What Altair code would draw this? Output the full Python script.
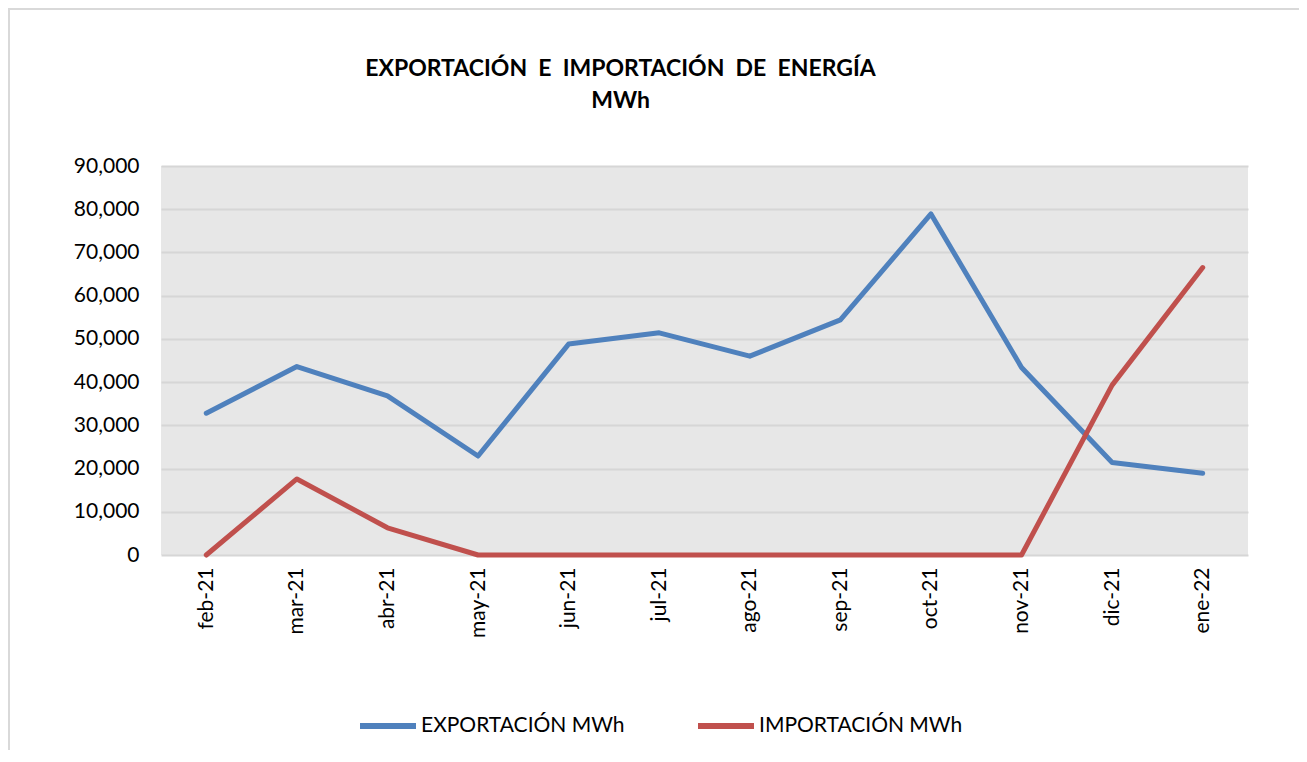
import altair as alt
import pandas as pd

months = ["feb-21", "mar-21", "abr-21", "may-21", "jun-21", "jul-21",
          "ago-21", "sep-21", "oct-21", "nov-21", "dic-21", "ene-22"]
exportacion = [32800, 43600, 36800, 22900, 48800, 51400,
               46000, 54400, 78900, 43400, 21400, 18900]
importacion = [0, 17600, 6300, 0, 0, 0, 0, 0, 0, 0, 39300, 66500]
series_names = ["EXPORTACIÓN MWh", "IMPORTACIÓN MWh"]
series_colors = ["#4F81BD", "#C0504D"]
title_lines = ["EXPORTACIÓN\u00a0\u00a0E\u00a0\u00a0IMPORTACIÓN\u00a0\u00a0DE\u00a0\u00a0ENERGÍA", "MWh"]

rows = []
for i, m in enumerate(months):
    rows.append({"mes": m, "orden": i, "serie": series_names[0], "valor": exportacion[i]})
    rows.append({"mes": m, "orden": i, "serie": series_names[1], "valor": importacion[i]})
df = pd.DataFrame(rows)

FONT = "Lato"
W, H = 1087, 389

frame = alt.Chart(pd.DataFrame({"k": [0]})).mark_rect(
    fill="transparent", stroke="#d9d9d9", strokeWidth=2, clip=False
).encode(
    x=alt.value(-152), x2=alt.value(W + 90),
    y=alt.value(-157), y2=alt.value(H + 260),
)

lines = alt.Chart(df).mark_line(strokeWidth=5, strokeCap="round", strokeJoin="round").encode(
    x=alt.X("mes:N", sort=months, scale=alt.Scale(type="point", padding=0.5),
            axis=alt.Axis(title=None, labelAngle=-90, labelAlign="right", labelBaseline="middle",
                          ticks=False, domain=False, grid=False, labelPadding=12,
                          labelFontSize=21, labelFont=FONT, labelColor="#000000")),
    y=alt.Y("valor:Q", scale=alt.Scale(domain=[0, 90000]),
            axis=alt.Axis(title=None, values=list(range(0, 90001, 10000)), format=",.0f",
                          ticks=False, domain=False, labelPadding=22,
                          labelFontSize=21, labelFont=FONT, labelColor="#000000",
                          gridColor="#d6d6d6", gridWidth=2)),
    color=alt.Color("serie:N", scale=alt.Scale(domain=series_names, range=series_colors),
                    legend=alt.Legend(title=None, orient="none", direction="horizontal",
                                      legendX=196, legendY=529, labelLimit=500,
                                      symbolType="stroke", symbolSize=3136, symbolStrokeWidth=6,
                                      labelFontSize=21, labelFont=FONT, labelColor="#000000",
                                      labelOffset=2, columnPadding=61)),
    order="orden:Q",
)

chart = alt.layer(frame, lines).properties(
    width=W, height=H,
    title=alt.TitleParams(
        text=title_lines,
        font=FONT, fontSize=23, fontWeight="bold", color="#000000",
        anchor="middle", dx=-84, offset=-105, lineHeight=32,
    ),
    autosize=alt.AutoSizeParams(type="none"),
    padding={"left": 153, "top": 158, "right": 51, "bottom": 195},
).configure(background="#ffffff").configure_view(fill="#e7e7e7", stroke=None)

chart.save("out.html", embed_options={"renderer": "svg", "actions": False})
